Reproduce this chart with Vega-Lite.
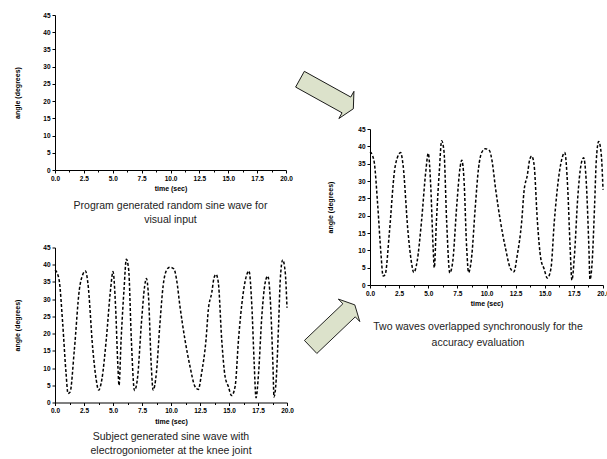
{
  "$schema": "https://vega.github.io/schema/vega-lite/v6.json",
  "padding": {"left": 13, "top": 12, "right": 0, "bottom": 0},
  "background": "white",
  "datasets": {
    "wave": [
      {"t": 0, "angle": 38.4}, {"t": 0.2, "angle": 37.5}, {"t": 0.38, "angle": 35.0}, {"t": 0.66, "angle": 23.1},
      {"t": 0.95, "angle": 8.6}, {"t": 1.12, "angle": 2.6}, {"t": 1.3, "angle": 3.0}, {"t": 1.67, "angle": 15.4},
      {"t": 2.1, "angle": 32.8}, {"t": 2.4, "angle": 37.2}, {"t": 2.63, "angle": 38.2}, {"t": 2.83, "angle": 34.8},
      {"t": 3.26, "angle": 15.4}, {"t": 3.55, "angle": 6.7}, {"t": 3.76, "angle": 3.6}, {"t": 4.04, "angle": 6.7},
      {"t": 4.42, "angle": 18.3}, {"t": 4.79, "angle": 32.8}, {"t": 5.0, "angle": 38.0}, {"t": 5.22, "angle": 28},
      {"t": 5.42, "angle": 10.6}, {"t": 5.52, "angle": 5.0}, {"t": 5.7, "angle": 18.3}, {"t": 5.95, "angle": 32.8},
      {"t": 6.15, "angle": 41.6}, {"t": 6.35, "angle": 38.6}, {"t": 6.58, "angle": 18.3}, {"t": 6.85, "angle": 3.5},
      {"t": 7.1, "angle": 6.7}, {"t": 7.45, "angle": 23.1}, {"t": 7.73, "angle": 33.8}, {"t": 7.88, "angle": 36.0},
      {"t": 8.06, "angle": 30.9}, {"t": 8.3, "angle": 10.6}, {"t": 8.46, "angle": 3.6}, {"t": 8.74, "angle": 8.6},
      {"t": 9.03, "angle": 22.2}, {"t": 9.32, "angle": 33.8}, {"t": 9.6, "angle": 38.3}, {"t": 9.9, "angle": 39.3},
      {"t": 10.25, "angle": 38.8}, {"t": 10.48, "angle": 35.7}, {"t": 10.77, "angle": 28}, {"t": 11.2, "angle": 18.3},
      {"t": 11.63, "angle": 10.6}, {"t": 12.06, "angle": 4.7}, {"t": 12.35, "angle": 3.8}, {"t": 12.64, "angle": 8.6},
      {"t": 13.02, "angle": 18.3}, {"t": 13.22, "angle": 27}, {"t": 13.51, "angle": 31.8}, {"t": 13.71, "angle": 36.2},
      {"t": 13.88, "angle": 37.2}, {"t": 14.08, "angle": 34.8}, {"t": 14.37, "angle": 18.3}, {"t": 14.66, "angle": 7.6},
      {"t": 14.94, "angle": 4.7}, {"t": 15.22, "angle": 2.0}, {"t": 15.53, "angle": 4.7}, {"t": 15.82, "angle": 18.3},
      {"t": 16.19, "angle": 30.9}, {"t": 16.54, "angle": 37.2}, {"t": 16.72, "angle": 38.2}, {"t": 16.97, "angle": 28},
      {"t": 17.17, "angle": 11.5}, {"t": 17.33, "angle": 1.4}, {"t": 17.55, "angle": 8.6}, {"t": 17.83, "angle": 25.1},
      {"t": 18.12, "angle": 34.8}, {"t": 18.34, "angle": 36.7}, {"t": 18.56, "angle": 29.9}, {"t": 18.79, "angle": 10.6},
      {"t": 18.88, "angle": 1.6}, {"t": 19.07, "angle": 6.7}, {"t": 19.28, "angle": 23.1}, {"t": 19.42, "angle": 35.7},
      {"t": 19.63, "angle": 41.4}, {"t": 19.85, "angle": 37.7}, {"t": 20.0, "angle": 27.5}
    ],
    "arrows": [
      {"t": -3.72, "angle": 55.1, "rot": 29},
      {"t": -3.2, "angle": -11.8, "rot": -43.6}
    ],
    "caption": [
      {"t": 9.27, "angle": -12.1, "label": "Two waves overlapped synchronously for the"},
      {"t": 9.27, "angle": -16.7, "label": "accuracy evaluation"}
    ]
  },
  "config": {
    "view": {"stroke": null},
    "axis": {
      "domainColor": "#000", "tickColor": "#000", "labelColor": "#000", "titleColor": "#000",
      "labelFont": "Liberation Sans", "titleFont": "Liberation Sans",
      "labelFontWeight": "bold", "titleFontWeight": "bold",
      "labelFontSize": 6.5, "titleFontSize": 7, "grid": false, "tickSize": 3,
      "labelFlush": false, "labelPadding": 2
    },
    "title": {
      "orient": "bottom", "font": "Liberation Sans", "fontSize": 10.5, "fontWeight": "normal",
      "color": "#222", "anchor": "middle", "offset": 9, "lineHeight": 14
    }
  },
  "hconcat": [
    {
      "vconcat": [
        {
          "width": 231, "height": 155,
          "title": {"text": ["Program generated random sine wave for", "visual input"]},
          "data": {"values": []},
          "mark": {"type": "line", "strokeDash": [3, 2], "color": "#000"},
          "encoding": {
            "x": {"field": "t", "type": "quantitative", "scale": {"domain": [0, 20], "nice": false},
              "axis": {"title": "time (sec)", "values": [0, 1.25, 2.5, 3.75, 5, 6.25, 7.5, 8.75, 10, 11.25, 12.5, 13.75, 15, 16.25, 17.5, 18.75, 20],
                "labelExpr": "datum.value % 2.5 === 0 ? format(datum.value, '.1f') : ''",
                "tickSize": {"condition": {"test": "datum.value % 2.5 !== 0", "value": 2}, "value": 3},
                "titlePadding": 3}},
            "y": {"field": "angle", "type": "quantitative", "scale": {"domain": [0, 45], "nice": false},
              "axis": {"title": "angle (degrees)", "values": [0, 5, 10, 15, 20, 25, 30, 35, 40, 45], "titlePadding": 22}}
          }
        },
        {
          "width": 232, "height": 155,
          "title": {"text": ["Subject generated sine wave with", "electrogoniometer at the knee joint"], "offset": 8},
          "data": {"name": "wave"},
          "mark": {"type": "line", "strokeDash": [3, 2], "color": "#000", "strokeWidth": 1.5, "interpolate": "monotone"},
          "encoding": {
            "x": {"field": "t", "type": "quantitative", "scale": {"domain": [0, 20], "nice": false},
              "axis": {"title": "time (sec)", "values": [0, 1.25, 2.5, 3.75, 5, 6.25, 7.5, 8.75, 10, 11.25, 12.5, 13.75, 15, 16.25, 17.5, 18.75, 20],
                "labelExpr": "datum.value % 2.5 === 0 ? format(datum.value, '.1f') : ''",
                "tickSize": {"condition": {"test": "datum.value % 2.5 !== 0", "value": 2}, "value": 3},
                "titlePadding": 3}},
            "y": {"field": "angle", "type": "quantitative", "scale": {"domain": [0, 45], "nice": false},
              "axis": {"title": "angle (degrees)", "values": [0, 5, 10, 15, 20, 25, 30, 35, 40, 45], "titlePadding": 22}}
          }
        }
      ],
      "spacing": 19.5
    },
    {
      "vconcat": [
        {
          "width": 1, "height": 40,
          "data": {"values": []},
          "mark": {"type": "point", "opacity": 0},
          "encoding": {}
        },
        {
          "width": 233, "height": 156,
          "encoding": {
            "x": {"field": "t", "type": "quantitative", "scale": {"domain": [0, 20], "nice": false},
              "axis": {"title": "time (sec)", "values": [0, 1.25, 2.5, 3.75, 5, 6.25, 7.5, 8.75, 10, 11.25, 12.5, 13.75, 15, 16.25, 17.5, 18.75, 20],
                "labelExpr": "datum.value % 2.5 === 0 ? format(datum.value, '.1f') : ''",
                "tickSize": {"condition": {"test": "datum.value % 2.5 !== 0", "value": 2}, "value": 3},
                "titlePadding": 3}},
            "y": {"field": "angle", "type": "quantitative", "scale": {"domain": [0, 45], "nice": false},
              "axis": {"title": "angle (degrees)", "values": [0, 5, 10, 15, 20, 25, 30, 35, 40, 45], "titlePadding": 24}}
          },
          "layer": [
            {
              "data": {"name": "wave"},
              "mark": {"type": "line", "strokeDash": [3, 2], "color": "#000", "strokeWidth": 1.5, "interpolate": "monotone"}
            },
            {
              "data": {"name": "arrows"},
              "mark": {"type": "point", "filled": true, "fill": "#dce2cb", "stroke": "#000", "strokeWidth": 0.8, "opacity": 1,
                "size": 3721, "clip": false,
                "shape": "M -1 -0.295 L 0.74 -0.295 L 0.74 -0.51 L 1 0 L 0.74 0.51 L 0.74 0.295 L -1 0.295 Z"},
              "encoding": {
                "angle": {"field": "rot", "type": "quantitative", "scale": null}
              }
            },
            {
              "data": {"name": "caption"},
              "mark": {"type": "text", "font": "Liberation Sans", "fontSize": 10.5, "color": "#222", "align": "center", "baseline": "middle", "clip": false},
              "encoding": {
                "text": {"field": "label", "type": "nominal"}
              }
            }
          ]
        }
      ],
      "spacing": 14
    }
  ],
  "spacing": 0
}
